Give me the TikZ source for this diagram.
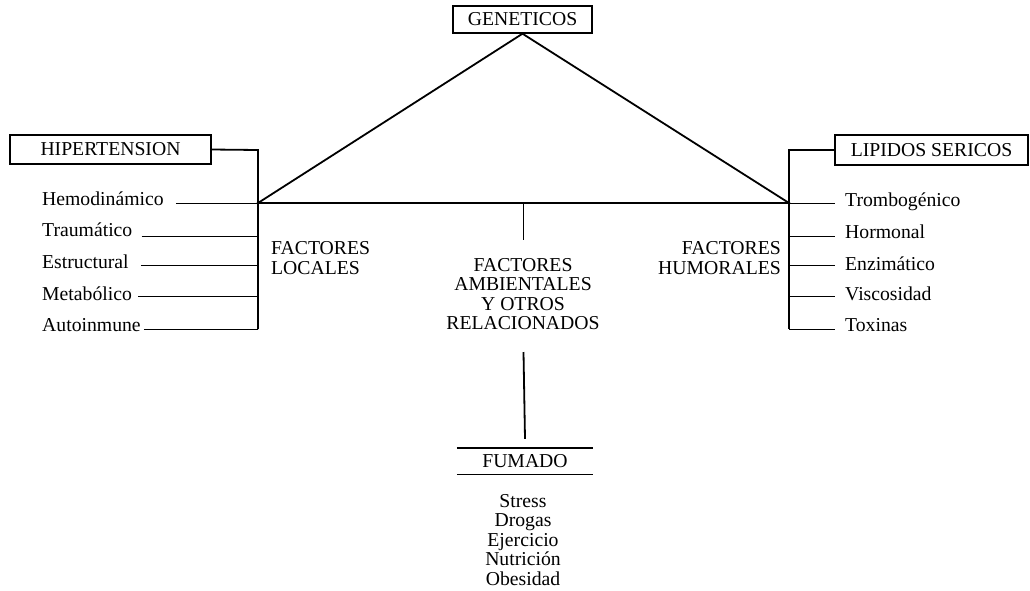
\documentclass[tikz,border=0pt]{standalone}
\usepackage{fontspec}
\setmainfont{Liberation Serif}
\begin{document}
\begin{tikzpicture}[x=1pt,y=-1pt,
  font=\fontsize{19.7}{19.5}\selectfont,
  box/.style={draw, line width=1.4pt, inner sep=0pt},
  txt/.style={inner sep=0pt},
  heavy/.style={line width=1.8pt},
  thinline/.style={line width=1pt},
  rule/.style={line width=1.4pt}]
\useasboundingbox (0,0) rectangle (1030,590);

% boxes
\node[box, minimum width=139pt, minimum height=27pt] (gen) at (522.5,19.5) {GENETICOS};
\node[box, minimum width=201pt, minimum height=29pt] (hip) at (110.5,149.5) {HIPERTENSION};
\node[box, minimum width=193pt, minimum height=30pt] (lip) at (931.5,150) {LIPIDOS SERICOS};

% key coordinates
\coordinate (L) at (258,203);
\coordinate (R) at (789,203);
\coordinate (M) at (523.5,203);
\coordinate (Mb) at (523.5,240);
\coordinate (Lt) at (258,150);
\coordinate (Rt) at (789,150);
\coordinate (l1) at (258,203);
\coordinate (l2) at (258,236);
\coordinate (l3) at (258,265);
\coordinate (l4) at (258,296);
\coordinate (l5) at (258,329);
\coordinate (r1) at (789,203);
\coordinate (r2) at (789,236);
\coordinate (r3) at (789,265);
\coordinate (r4) at (789,296);
\coordinate (r5) at (789,329);

% triangle and spines
\draw[heavy, line join=miter] (gen.south) -- (L) -- (R) -- cycle;
\draw[heavy] (hip.east) -- (Lt) -- (l5);
\draw[heavy] (lip.west) -- (Rt) -- (r5);
\draw[heavy] (M) -- (Mb);

% left items
\node[txt, anchor=west] (hem) at (42,199) {Hemodinámico};
\node[txt, anchor=west] (tra) at (42,230) {Traumático};
\node[txt, anchor=west] (est) at (42,262) {Estructural};
\node[txt, anchor=west] (met) at (42,294) {Metabólico};
\node[txt, anchor=west] (aut) at (42,325) {Autoinmune};
\draw[thinline] ([xshift=12pt]hem.east |- l1) -- (l1);
\draw[thinline] ([xshift=9pt]tra.east |- l2) -- (l2);
\draw[thinline] ([xshift=12pt]est.east |- l3) -- (l3);
\draw[thinline] ([xshift=6pt]met.east |- l4) -- (l4);
\draw[thinline] ([xshift=3pt]aut.east |- l5) -- (l5);

% right items
\node[txt, anchor=west] (tro) at (845,202) {Trombogénico};
\node[txt, anchor=west] (hor) at (845,232) {Hormonal};
\node[txt, anchor=west] (enz) at (845,264) {Enzimático};
\node[txt, anchor=west] (vis) at (845,294) {Viscosidad};
\node[txt, anchor=west] (tox) at (845,325) {Toxinas};
\draw[thinline] (r1) -- ([xshift=-10pt]tro.west |- r1);
\draw[thinline] (r2) -- ([xshift=-10pt]hor.west |- r2);
\draw[thinline] (r3) -- ([xshift=-10pt]enz.west |- r3);
\draw[thinline] (r4) -- ([xshift=-10pt]vis.west |- r4);
\draw[thinline] (r5) -- ([xshift=-10pt]tox.west |- r5);

% group labels
\node[txt, anchor=west, align=left] (loc) at (271,258) {FACTORES\\LOCALES};
\node[txt, anchor=east, align=right] (hum) at (781,258) {FACTORES\\HUMORALES};

% centre
\node[txt, align=center] (amb) at (523,294) {FACTORES\\AMBIENTALES\\Y OTROS\\RELACIONADOS};
\coordinate (Fa) at (523.5,352);
\node[txt, minimum width=136pt, minimum height=26pt] (fum) at (525,461) {FUMADO};
\draw[heavy] (Fa) -- ([yshift=9pt]fum.north);
\draw[rule] (fum.north west) -- (fum.north east);
\draw[rule] (fum.south west) -- (fum.south east);
\node[txt, align=center] (lst) at (523,540) {Stress\\Drogas\\Ejercicio\\Nutrición\\Obesidad};
\end{tikzpicture}
\end{document}
